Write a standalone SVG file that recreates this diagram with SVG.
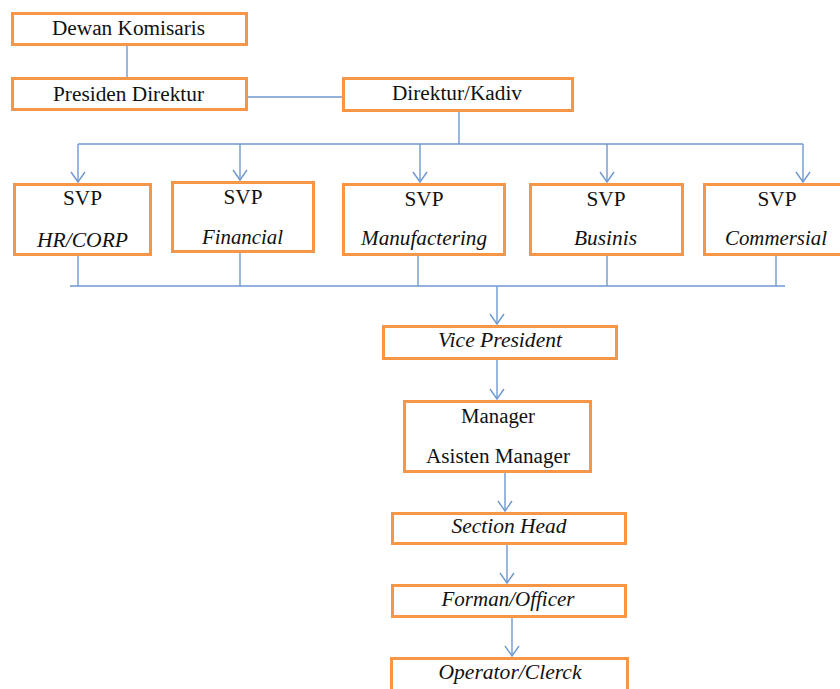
<svg xmlns="http://www.w3.org/2000/svg" width="840" height="689" viewBox="0 0 840 689">
  <defs>
    <marker id="arrow" markerUnits="userSpaceOnUse" markerWidth="20" markerHeight="20" refX="0" refY="0" orient="auto" overflow="visible">
      <path d="M-10,-7 L0,0 L-10,7" fill="none" stroke="#6F98CF" stroke-width="1.4"/>
    </marker>
    <style>
      .box { fill: #ffffff; stroke: #F79646; stroke-width: 3; }
      .ln { fill: none; stroke: #6F98CF; stroke-width: 1.4; }
      .arr { fill: none; stroke: #6F98CF; stroke-width: 1.4; marker-end: url(#arrow); }
      text { font-family: "Liberation Serif", "Times New Roman", serif; font-size: 20px; fill: #111111; text-anchor: middle; }
      .it { font-style: italic; }
    </style>
  </defs>
  <rect width="840" height="689" fill="#ffffff"/>

  <!-- connectors -->
  <g id="connectors">
    <line class="ln" x1="127" y1="46" x2="127" y2="77"/>
    <line class="ln" x1="248" y1="97" x2="342" y2="97"/>
    <line class="ln" x1="459" y1="112" x2="459" y2="144"/>
    <line class="ln" x1="78" y1="144" x2="803" y2="144"/>
    <line class="arr" x1="78" y1="144" x2="78" y2="182"/>
    <line class="arr" x1="240" y1="144" x2="240" y2="180"/>
    <line class="arr" x1="420" y1="144" x2="420" y2="182"/>
    <line class="arr" x1="607" y1="144" x2="607" y2="182"/>
    <line class="arr" x1="803" y1="144" x2="803" y2="182"/>
    <line class="ln" x1="70" y1="286" x2="785" y2="286"/>
    <line class="ln" x1="78" y1="256" x2="78" y2="286"/>
    <line class="ln" x1="240" y1="253" x2="240" y2="286"/>
    <line class="ln" x1="418" y1="256" x2="418" y2="286"/>
    <line class="ln" x1="607" y1="256" x2="607" y2="286"/>
    <line class="ln" x1="776" y1="256" x2="776" y2="286"/>
    <line class="arr" x1="497" y1="286" x2="497" y2="324"/>
    <line class="arr" x1="497" y1="360" x2="497" y2="399"/>
    <line class="arr" x1="505" y1="473" x2="505" y2="511"/>
    <line class="arr" x1="507" y1="545" x2="507" y2="583"/>
    <line class="arr" x1="512" y1="618" x2="512" y2="656"/>
  </g>

  <g id="dewan-komisaris">
    <rect class="box" x="12.5" y="13.5" width="234" height="31"/>
    <text x="128.5" y="35" textLength="153" lengthAdjust="spacingAndGlyphs">Dewan Komisaris</text>
  </g>
  <g id="presiden-direktur">
    <rect class="box" x="12.5" y="78.5" width="234" height="31"/>
    <text x="128.5" y="101" textLength="151" lengthAdjust="spacingAndGlyphs">Presiden Direktur</text>
  </g>
  <g id="direktur-kadiv">
    <rect class="box" x="343.5" y="78.5" width="229" height="32"/>
    <text x="457" y="100" textLength="130" lengthAdjust="spacingAndGlyphs">Direktur/Kadiv</text>
  </g>

  <g id="svp-hr">
    <rect class="box" x="14.5" y="184.5" width="136" height="70"/>
    <text x="82.5" y="205" textLength="39" lengthAdjust="spacingAndGlyphs">SVP</text>
    <text class="it" x="82.5" y="247" textLength="91" lengthAdjust="spacingAndGlyphs">HR/CORP</text>
  </g>
  <g id="svp-financial">
    <rect class="box" x="172.5" y="182.5" width="141" height="69"/>
    <text x="243" y="204" textLength="39" lengthAdjust="spacingAndGlyphs">SVP</text>
    <text class="it" x="242.5" y="244" textLength="81" lengthAdjust="spacingAndGlyphs">Financial</text>
  </g>
  <g id="svp-manufactering">
    <rect class="box" x="343.5" y="184.5" width="161" height="70"/>
    <text x="424" y="206" textLength="39" lengthAdjust="spacingAndGlyphs">SVP</text>
    <text class="it" x="424" y="245" textLength="126" lengthAdjust="spacingAndGlyphs">Manufactering</text>
  </g>
  <g id="svp-businis">
    <rect class="box" x="530.5" y="184.5" width="152" height="70"/>
    <text x="606" y="206" textLength="39" lengthAdjust="spacingAndGlyphs">SVP</text>
    <text class="it" x="605.5" y="245" textLength="63" lengthAdjust="spacingAndGlyphs">Businis</text>
  </g>
  <g id="svp-commersial">
    <rect class="box" x="704.5" y="184.5" width="150" height="70"/>
    <text x="777" y="206" textLength="39" lengthAdjust="spacingAndGlyphs">SVP</text>
    <text class="it" x="776" y="245" textLength="102" lengthAdjust="spacingAndGlyphs">Commersial</text>
  </g>

  <g id="vice-president">
    <rect class="box" x="383.5" y="326.5" width="233" height="32"/>
    <text class="it" x="500" y="347" textLength="124" lengthAdjust="spacingAndGlyphs">Vice President</text>
  </g>
  <g id="manager">
    <rect class="box" x="404.5" y="401.5" width="186" height="70"/>
    <text x="498" y="423" textLength="74" lengthAdjust="spacingAndGlyphs">Manager</text>
    <text x="498" y="463" textLength="144" lengthAdjust="spacingAndGlyphs">Asisten Manager</text>
  </g>
  <g id="section-head">
    <rect class="box" x="392.5" y="513.5" width="233" height="30"/>
    <text class="it" x="509" y="533" textLength="115" lengthAdjust="spacingAndGlyphs">Section Head</text>
  </g>
  <g id="forman-officer">
    <rect class="box" x="392.5" y="585.5" width="233" height="31"/>
    <text class="it" x="508" y="606" textLength="133" lengthAdjust="spacingAndGlyphs">Forman/Officer</text>
  </g>
  <g id="operator-clerck">
    <rect class="box" x="391.5" y="658.5" width="236" height="40"/>
    <text class="it" x="510" y="679" textLength="143" lengthAdjust="spacingAndGlyphs">Operator/Clerck</text>
  </g>
</svg>
